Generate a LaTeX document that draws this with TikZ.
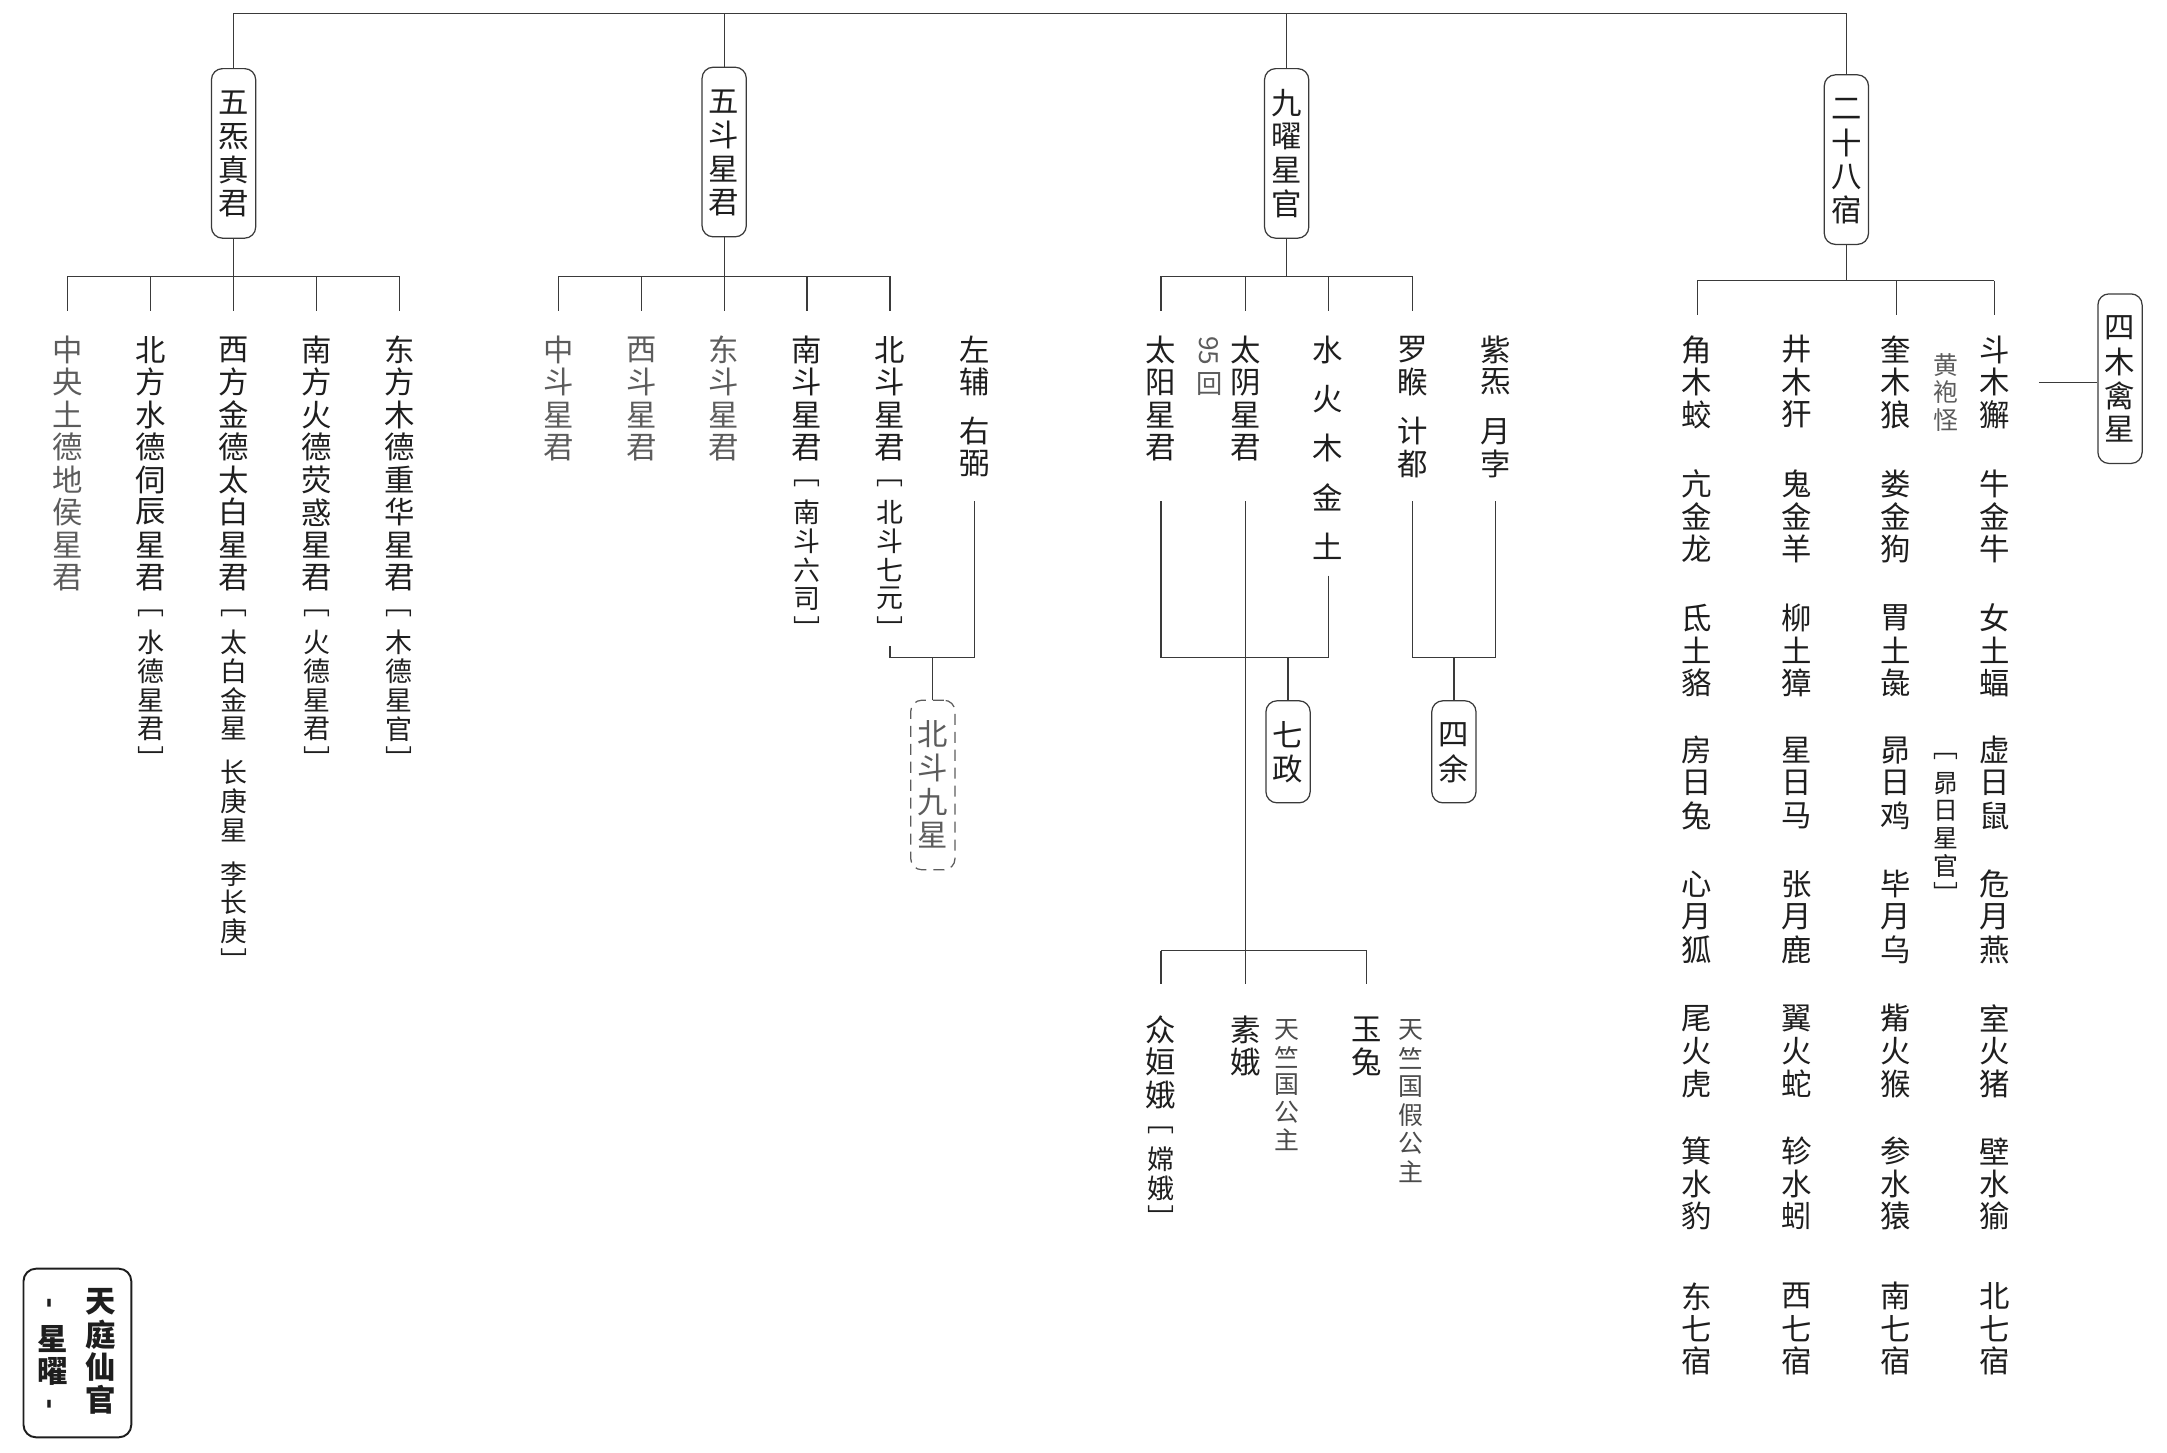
\documentclass[tikz,border=0pt]{standalone}
\usepackage{fontspec}
\setmainfont{Noto Sans CJK SC}
\definecolor{ink}{HTML}{1E1E1E}
\definecolor{gtx}{HTML}{5C5C5C}
\definecolor{lc}{HTML}{3A3A3A}
\newcommand\fs[1]{\fontsize{#1}{#1}\selectfont}
\makeatletter
\def\vt@end{vt@end}
\def\vtpitch{1.07em}
\def\vtgap{0.55em}
\def\vtw{30pt}
\def\sm{\fontsize{19.5}{19.5}\selectfont\vskip 4pt\relax}
\newcommand\V[1]{\vbox{\offinterlineskip\vt@loop#1\vt@end}}
\def\vt@loop#1{\ifx#1\vt@end\else\ifx#1|\vskip\vtgap\relax\else\ifx#1\sm\sm\else\vt@char{#1}\fi\fi\expandafter\vt@loop\fi}
\def\vt@char#1{\vbox to \vtpitch{\vss\hbox to \vtw{\hss#1\hss}\vss}}
\makeatother
\newcommand\VV[1]{\expandafter\V\expandafter{#1}}
\begin{document}
\begin{tikzpicture}[x=1pt,y=-1pt,
  ln/.style={draw=lc,line width=0.9pt},
  box/.style={draw=lc,line width=0.9pt,rounded corners=8pt,inner xsep=1pt,inner ysep=12.5pt,font={\fs{22}\def\vtpitch{1.11em}},text=ink},
  txt/.style={inner sep=0pt,anchor=north,font=\fs{22},text=ink},
  gtxt/.style={txt,text=gtx},
  note/.style={inner sep=0pt,anchor=north,font={\fs{18}\def\vtpitch{1.1em}},text=gtx},
]
\useasboundingbox (0,0) rectangle (1568,1051);

% ---------- top level boxes
\node[box] (b1) at (169,111) {\V{五炁真君}};
\node[box] (b2) at (524,110) {\V{五斗星君}};
\node[box] (b3) at (931,111) {\V{九曜星官}};
\node[box] (b4) at (1336,115.5) {\V{二十八宿}};
\coordinate (topbar) at (0,10);
\draw[ln] (b1.north) -- (b1.north |- topbar) -- (b4.north |- topbar) -- (b4.north);
\draw[ln] (b2.north) -- (b2.north |- topbar);
\draw[ln] (b3.north) -- (b3.north |- topbar);

% ---------- group 1
\node[gtxt] (g1a) at (49,241) {\V{中央土德地侯星君}};
\node[txt] (g1b) at (109,241) {\V{北方水德伺辰星君\sm ﹇水德星君﹈}};
\node[txt] (g1c) at (169,241) {\V{西方金德太白星君\sm ﹇太白金星|长庚星|李长庚﹈}};
\node[txt] (g1d) at (229,241) {\V{南方火德荧惑星君\sm ﹇火德星君﹈}};
\node[txt] (g1e) at (289,241) {\V{东方木德重华星君\sm ﹇木德星官﹈}};
\coordinate (bus1) at (0,200);
\draw[ln] (b1.south) -- (b1.south |- bus1);
\draw[ln] (g1a.north |- bus1) -- (g1e.north |- bus1);
\foreach \n in {g1a,g1b,g1c,g1d,g1e}
  \draw[ln,shorten >=16pt] (\n.north |- bus1) -- (\n.north);

% ---------- group 2
\node[gtxt] (g2a) at (404,241) {\V{中斗星君}};
\node[gtxt] (g2b) at (464,241) {\V{西斗星君}};
\node[gtxt] (g2c) at (524,241) {\V{东斗星君}};
\node[txt] (g2d) at (584,241) {\V{南斗星君\sm ﹇南斗六司﹈}};
\node[txt] (g2e) at (644,241) {\V{北斗星君\sm ﹇北斗七元﹈}};
\node[txt] (g2f) at (705,241) {\V{左辅|右弼}};
\coordinate (bus2) at (0,200);
\draw[ln] (b2.south) -- (b2.south |- bus2);
\draw[ln] (g2a.north |- bus2) -- (g2e.north |- bus2);
\foreach \n in {g2a,g2b,g2c,g2d,g2e}
  \draw[ln,shorten >=16pt] (\n.north |- bus2) -- (\n.north);
\node[box,draw=gtx,dashed,dash pattern=on 8pt off 5pt,text=gtx] (bd9) at (675,568) {\V{北斗九星}};
\coordinate (mj2) at (0,476);
\draw[ln,shorten <=3pt] (g2e.south) |- (g2f.south |- mj2);
\draw[ln,shorten <=15pt] (g2f.south) -- (g2f.south |- mj2);
\draw[ln] (bd9.north |- mj2) -- (bd9.north);

% ---------- group 3
\node[txt] (g3a) at (840,241) {\V{太阳星君}};
\node[txt] (g3b) at (901,241) {\V{太阴星君}};
\node[txt] (g3c) at (961,241) {\V{水|火|木|金|土}};
\node[txt] (g3d) at (1022,241) {\V{罗睺|计都}};
\node[txt] (g3e) at (1082,241) {\V{紫炁|月孛}};
\node[rotate=-90,anchor=west,inner sep=0pt,font=\fs{19},text=gtx] (n95) at (875,243) {95};
\node[anchor=north,inner sep=0pt,font=\fs{19},text=gtx] (nhui) at (875,269) {回};
\coordinate (bus3) at (0,200);
\draw[ln] (b3.south) -- (b3.south |- bus3);
\draw[ln] (g3a.north |- bus3) -- (g3d.north |- bus3);
\foreach \n in {g3a,g3b,g3c,g3d}
  \draw[ln,shorten >=16pt] (\n.north |- bus3) -- (\n.north);

\node[box] (qz) at (932,544) {\V{七政}};
\node[box] (sy) at (1052,544) {\V{四余}};
\coordinate (mj3) at (0,476);
\draw[ln,shorten <=27pt] (g3a.south) |- (g3c.south |- mj3);
\draw[ln,shorten <=9pt] (g3c.south) -- (g3c.south |- mj3);
\draw[ln] (qz.north |- mj3) -- (qz.north);
\draw[ln,shorten <=15pt] (g3d.south) |- (g3e.south |- mj3);
\draw[ln,shorten <=15pt] (g3e.south) -- (g3e.south |- mj3);
\draw[ln] (sy.north |- mj3) -- (sy.north);

% lower group (moon)
\node[txt] (g3f) at (840,733) {\V{众姮娥\sm ﹇嫦娥﹈}};
\node[txt] (g3g) at (901,733) {\V{素娥}};
\node[note,text=ink!80] (g3h) at (931,735) {\V{天竺国公主}};
\node[txt] (g3i) at (989,733) {\V{玉兔}};
\node[note,text=ink!80,font={\fs{18}\def\vtpitch{1.14em}}] (g3j) at (1021,735) {\V{天竺国假公主}};
\coordinate (bus5) at (0,688);
\draw[ln,shorten <=27pt] (g3b.south) -- (g3b.south |- bus5);
\draw[ln] (g3f.north |- bus5) -- (g3i.north |- bus5);
\foreach \n in {g3f,g3g,g3i}
  \draw[ln,shorten >=21pt] (\n.north |- bus5) -- (\n.north);

% ---------- group 4 : 28 mansions
\foreach \t/\y [count=\r] in {角木蛟/241,亢金龙/338,氐土貉/435,房日兔/531,心月狐/628,尾火虎/725,箕水豹/821,东七宿/926}
  \node[txt] (ma\r) at (1228,\y) {\VV{\t}};
\foreach \t/\y [count=\r] in {井木犴/241,鬼金羊/338,柳土獐/435,星日马/531,张月鹿/628,翼火蛇/725,轸水蚓/821,西七宿/926}
  \node[txt] (mb\r) at (1300,\y) {\VV{\t}};
\foreach \t/\y [count=\r] in {奎木狼/241,娄金狗/338,胃土彘/435,昴日鸡/531,毕月乌/628,觜火猴/725,参水猿/821,南七宿/926}
  \node[txt] (mc\r) at (1372,\y) {\VV{\t}};
\foreach \t/\y [count=\r] in {斗木獬/241,牛金牛/338,女土蝠/435,虚日鼠/531,危月燕/628,室火猪/725,壁水㺄/821,北七宿/926}
  \node[txt] (md\r) at (1443,\y) {\VV{\t}};
\node[note] (hpg) at (1408,254) {\V{黄袍怪}};
\node[note,text=ink] (mrxg) at (1408,537) {\V{﹇昴日星官﹈}};
\coordinate (bus4) at (0,203);
\draw[ln] (b4.south) -- (b4.south |- bus4);
\draw[ln] (ma1.north |- bus4) -- (md1.north |- bus4);
\foreach \n in {ma1,mc1,md1}
  \draw[ln,shorten >=13pt] (\n.north |- bus4) -- (\n.north);
\node[box] (smq) at (1534,274) {\V{四木禽星}};
\draw[ln,shorten <=17pt] (md1.east) -- (md1.east -| smq.west);

% ---------- legend
\node[draw=ink,line width=1.4pt,rounded corners=9pt,minimum width=78pt,minimum height=122pt,inner sep=0pt] (lg) at (56,979) {};
\node[txt,font={\fs{22}\bfseries}] (lgt) at (73,930) {\V{天庭仙官}};
\node[txt,font={\fs{22}\bfseries}] (lgs) at (38,957) {\V{星曜}};
\node[rotate=90,inner sep=0pt,font={\fs{20}\bfseries},text=ink] (lgd1) at (38,943) {-};
\node[rotate=90,inner sep=0pt,font={\fs{20}\bfseries},text=ink] (lgd2) at (38,1016) {-};
\end{tikzpicture}
\end{document}
